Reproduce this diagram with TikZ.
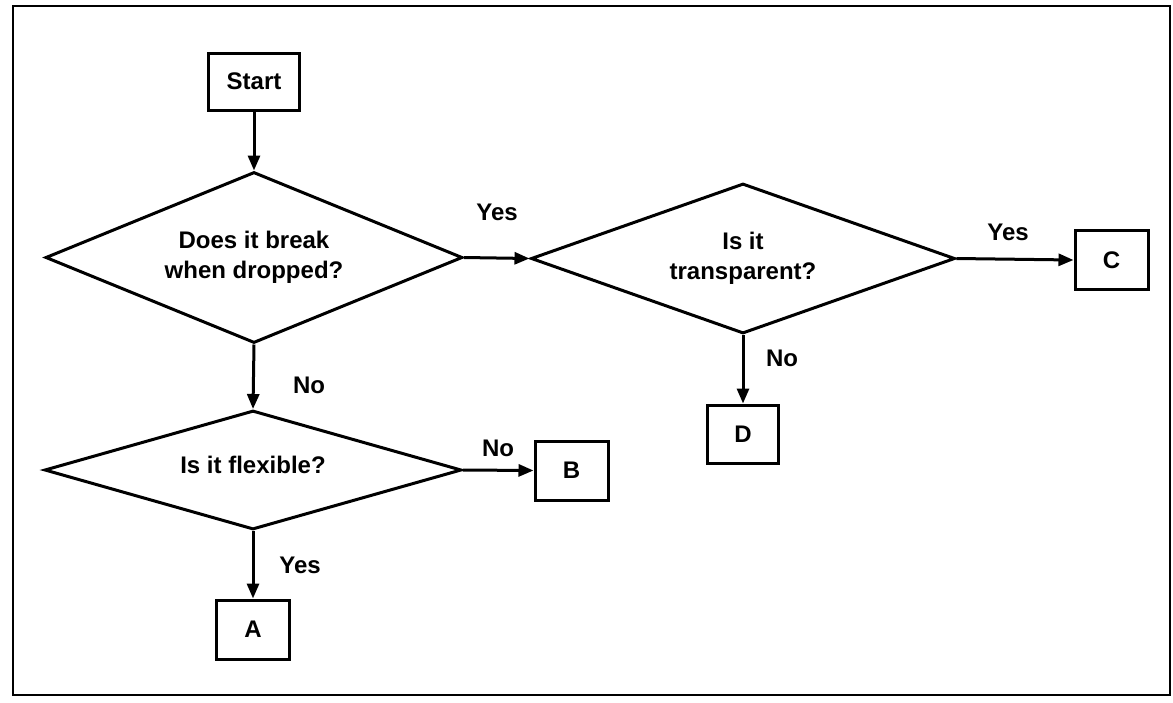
\documentclass[tikz,border=0pt]{standalone}
\usepackage{fontspec}
\setmainfont{Liberation Sans}
\usetikzlibrary{shapes.geometric,arrows.meta}

\tikzset{
  stepbox/.style={draw, line width=3pt, inner sep=0pt, minimum width=73pt, minimum height=59pt},
  decision/.style={draw, diamond, line width=3pt, inner sep=0pt, align=center},
  flow/.style={line width=3pt, -{Triangle[length=15pt,width=12pt]}},
  answer/.style={inner sep=0pt},
}

\begin{document}
\begin{tikzpicture}[x=1pt, y=-1pt, font=\fontsize{24}{30}\selectfont\bfseries]
  \useasboundingbox (0,0) rectangle (1173,702);
  \draw[line width=2.5pt] (13,6) rectangle (1170,695);

  % process boxes
  \node[stepbox, minimum width=91pt, minimum height=57pt] (start) at (254,81.5) {Start};
  \node[stepbox] (c) at (1111.5,260) {C};
  \node[stepbox] (b) at (571.5,470.5) {B};
  \node[stepbox, minimum width=71pt, minimum height=58pt] (d) at (743,434) {D};
  \node[stepbox] (a) at (253,629.5) {A};

  % decisions
  \node[decision, shape aspect=2.44, minimum width=417pt, minimum height=171pt] (q1) at (254,257.5)
    {Does it break\\when dropped?};
  \node[decision, shape aspect=2.83, minimum width=424pt, minimum height=150pt] (q2) at (743,258.5)
    {Is it\\transparent?};
  \node[decision, shape aspect=3.5, minimum width=417pt, minimum height=119pt] (q3) at (253,470)
    {\raisebox{10pt}{Is it flexible?}};

  % connectors
  \draw[flow] (start.south) -- (q1.north);
  \draw[flow] (q1.east) -- (q2.west);
  \draw[flow] (q2.east) -- (c.west);
  \draw[flow] (q2.south) -- (d.north);
  \draw[flow] (q1.south) -- (q3.north);
  \draw[flow] (q3.east) -- (b.west);
  \draw[flow] (q3.south) -- (a.north);

  % branch labels
  \node[answer] (l1) at (497,212) {Yes};
  \node[answer] (l2) at (1008,232) {Yes};
  \node[answer] (l3) at (782,358) {No};
  \node[answer] (l4) at (309,385) {No};
  \node[answer] (l5) at (498,448) {No};
  \node[answer] (l6) at (300,565) {Yes};
\end{tikzpicture}
\end{document}
